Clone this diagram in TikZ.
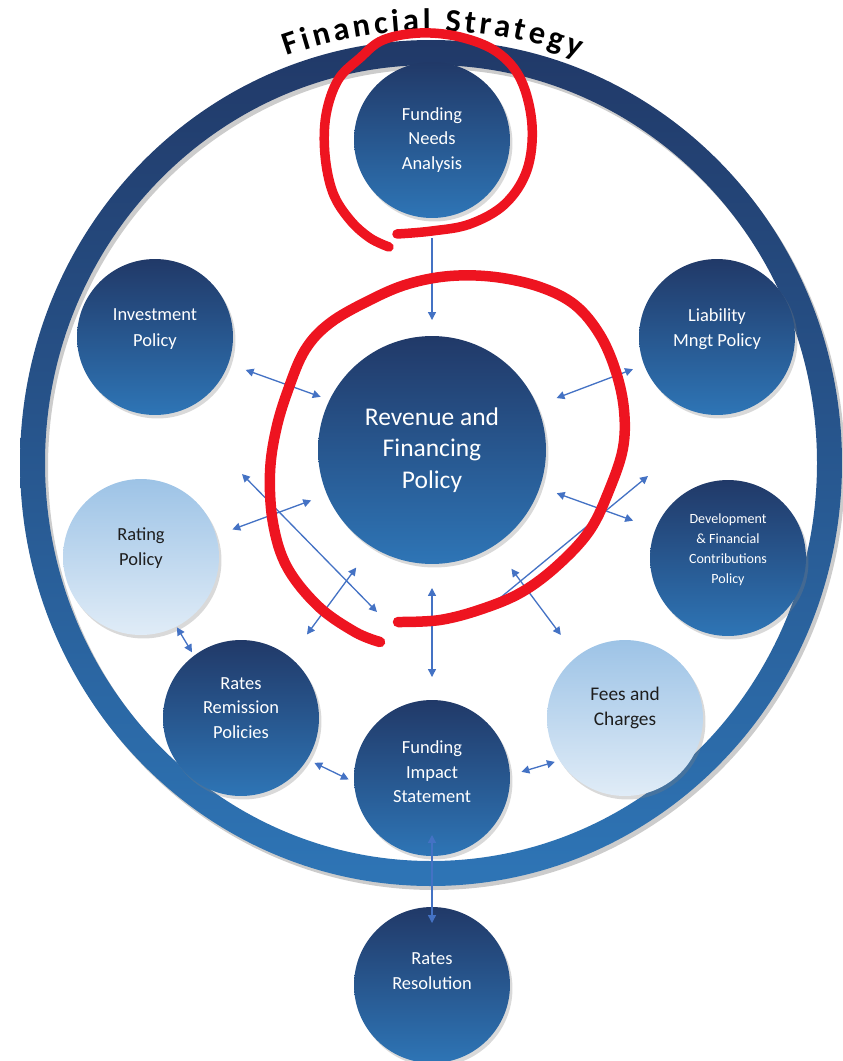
\documentclass[tikz,border=0pt]{standalone}
\usepackage{fontspec}
\setmainfont{Carlito}
\usetikzlibrary{arrows.meta,shadows,decorations.text}

\definecolor{navy}{RGB}{33,57,104}
\definecolor{steel}{RGB}{46,117,182}
\definecolor{paleblue}{RGB}{157,195,230}
\definecolor{mist}{RGB}{224,236,247}
\definecolor{linkblue}{RGB}{68,114,196}
\definecolor{ink}{RGB}{30,30,30}
\definecolor{redpen}{RGB}{238,20,32}

\tikzset{
  bubble/.style={circle, minimum size=3.12cm, inner sep=0pt, outer sep=0pt,
    top color=navy, bottom color=steel,
    drop shadow={shadow xshift=.05cm, shadow yshift=-.07cm, opacity=.3}},
  palebubble/.style={bubble, top color=paleblue, bottom color=mist},
  whitetxt/.style={text=white, align=center, font=\fontsize{10.5}{14}\selectfont},
  inktxt/.style={whitetxt, text=ink},
  link/.style={draw=linkblue, line width=.75pt, >={Triangle[length=4.5pt,width=4.5pt]}, <->},
  scribble/.style={draw=redpen, line width=.21cm, line cap=round, line join=round}
}

\begin{document}
\begin{tikzpicture}[x=0.02cm, y=-0.02cm]
\useasboundingbox (0,0) rectangle (842,1061);

% outer ring with its shadow
\fill[black, opacity=.2, even odd rule, shift={(3,4)}] (431,463) ellipse [x radius=411, y radius=423] (431,463) ellipse [x radius=386, y radius=398];
\shade[top color=navy, bottom color=steel, even odd rule] (431,463) ellipse [x radius=411, y radius=423] (431,463) ellipse [x radius=386, y radius=398];

% title along the ring
\path[decorate, decoration={text along path, text align={fit to path},
  text={|\bfseries\fontsize{18.5}{18.5}\selectfont|Financial Strategy}}]
  (431,463) ++(-109.5:432) arc[start angle=-109.5, end angle=-70, radius=432];

% policies
\node[bubble] (fna) at (432,140) {};
\node[bubble] (inv) at (155,337) {};
\node[bubble] (liab) at (717,337) {};
\node[bubble, minimum size=4.56cm] (rev) at (432,450) {};
\node[palebubble] (rat) at (141,557) {};
\node[bubble] (dev) at (728,558) {};
\node[bubble] (rrp) at (241,718) {};
\node[palebubble] (fees) at (625,718) {};
\node[bubble] (fis) at (432,778) {};
\node[bubble] (rr) at (432,985) {};

% their texts, set a little above centre
\node[whitetxt] (fna-t) at (fna) {Funding\\Needs\\Analysis};
\node[whitetxt, font=\fontsize{10.5}{14.5}\selectfont] (inv-t) at ([yshift=.16cm]inv.center) {Investment\\Policy};
\node[whitetxt, font=\fontsize{10.5}{14.5}\selectfont] (liab-t) at ([yshift=.16cm]liab.center) {Liability\\Mngt Policy};
\node[whitetxt, font=\fontsize{14.5}{18}\selectfont] (rev-t) at (rev) {Revenue and\\Financing\\Policy};
\node[inktxt] (rat-t) at ([yshift=.18cm]rat.center) {Rating\\Policy};
\node[whitetxt, font=\fontsize{8}{11.3}\selectfont] (dev-t) at ([yshift=.16cm]dev.center) {Development\\\& Financial\\Contributions\\Policy};
\node[whitetxt] (rrp-t) at ([yshift=.2cm]rrp.center) {Rates\\Remission\\Policies};
\node[inktxt, font=\fontsize{11}{14.5}\selectfont] (fees-t) at ([yshift=.2cm]fees.center) {Fees and\\Charges};
\node[whitetxt] (fis-t) at ([yshift=.12cm]fis.center) {Funding\\Impact\\Statement};
\node[whitetxt, font=\fontsize{10.5}{14.5}\selectfont] (rr-t) at ([yshift=.28cm]rr.center) {Rates\\Resolution};

% links to and from the revenue policy
\draw[link, <-, shorten <=.32cm, shorten >=.4cm] (rev.north) -- (fna.south);
\draw[link, shorten <=.37cm, shorten >=.19cm] (inv.-20) -- (rev.154);
\draw[link, shorten <=.42cm, shorten >=.24cm] (rev.23) -- (liab.201);
\draw[link, shorten <=.35cm, shorten >=.34cm] (rat.16) -- (rev.203);
\draw[link, shorten <=.36cm, shorten >=.48cm] (rev.-19) -- (dev.158);
\draw[link, shorten <=.57cm, shorten >=.52cm] (rrp.51) -- (rev.238);
\draw[link, shorten <=.48cm, shorten >=.46cm] (rev.south) -- (fis.north);
\draw[link, shorten <=.58cm, shorten >=.54cm] (rev.-57) -- (fees.128);

% links round the lower ring
\draw[link, shorten <=.02cm, shorten >=.08cm] (rat.-63) -- (rrp.127);
\draw[link, shorten <=.16cm, shorten >=.12cm] (rrp.-32) -- (fis.183);
\draw[link, shorten <=.24cm, shorten >=.1cm] (fis.2) -- (fees.213);
\draw[link, shorten <=-.42cm, shorten >=-.32cm] (fis.south) -- (rr.north);

% the two long crossing links
\coordinate (cross-nw) at (242,474);
\coordinate (cross-se) at (377,612);
\coordinate (cross-ne) at (648,476);
\coordinate (cross-sw) at (500,598);
\draw[link] (cross-nw) -- (cross-se);
\draw[link, ->] (cross-sw) -- (cross-ne);

% red pen loops
\draw[scribble, line width=.19cm] plot[smooth, tension=.6] coordinates {(397,234) (432,231) (470,224) (505,204) (527,170) (532,125) (521,80) (497,52) (460,37) (420,33) (383,40) (360,58) (338,80) (326,115) (325,155) (333,193) (350,220) (370,238) (389,247)};
\draw[scribble] plot[smooth, tension=.6] coordinates {(398,622) (440,620) (482,609) (522,592) (558,565) (590,530) (610,488) (623,448) (624,410) (616,372) (600,335) (575,305) (540,287) (495,277) (450,276) (408,284) (370,300) (330,323) (305,350) (288,390) (276,430) (270,473) (273,523) (287,567) (318,606) (355,632) (380,642)};

\end{tikzpicture}
\end{document}
